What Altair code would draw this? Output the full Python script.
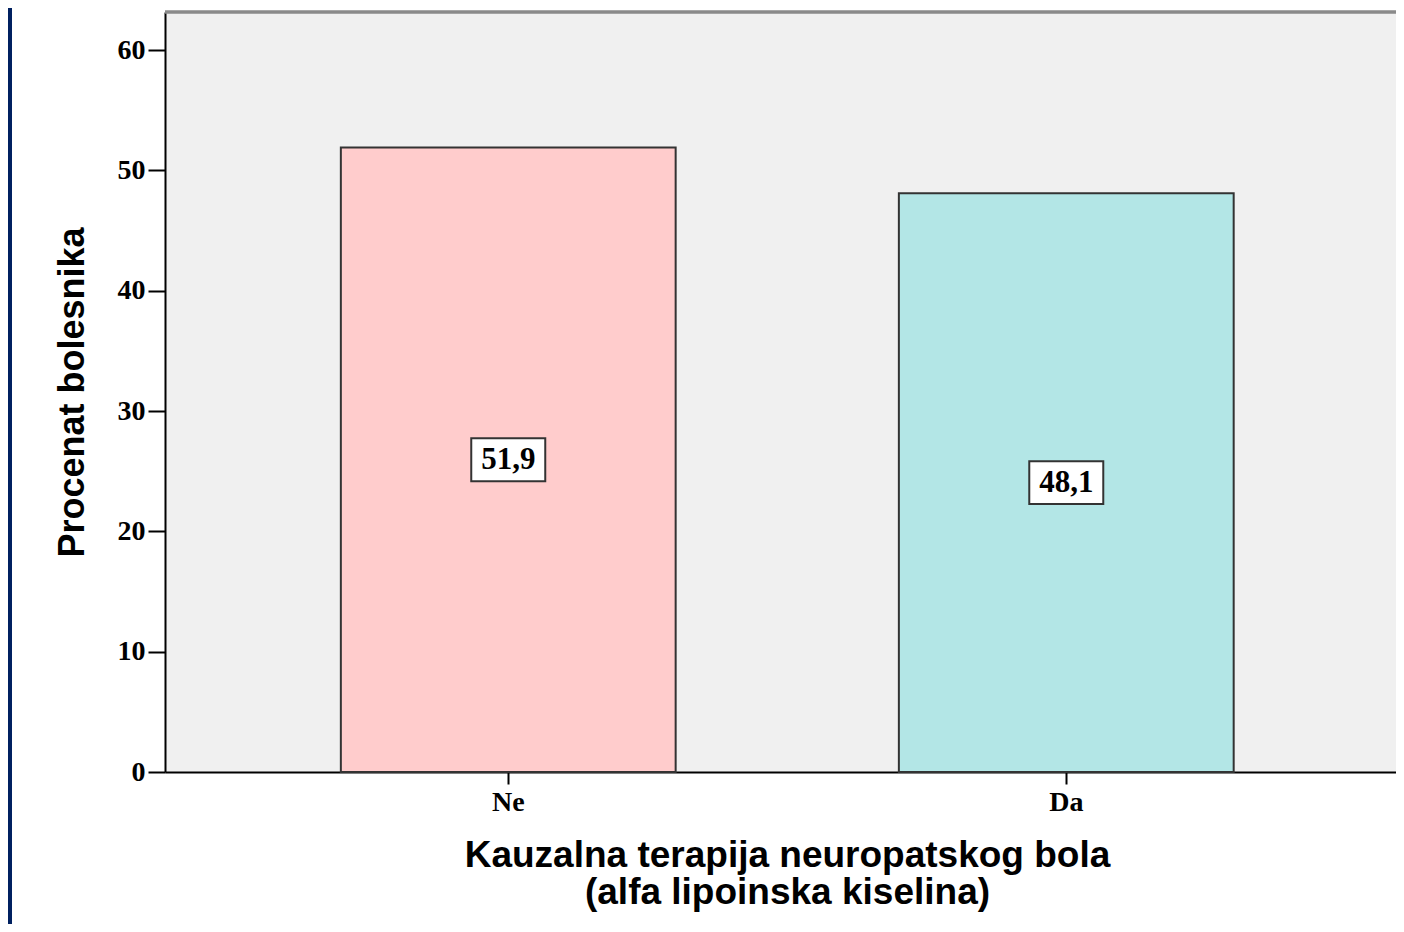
import altair as alt
import pandas as pd

categories = ["Ne", "Da"]
values = [51.9, 48.1]
value_labels = ["51,9", "48,1"]
bar_colors = ["#FFCCCC", "#B3E6E6"]
y_ticks = [0, 10, 20, 30, 40, 50, 60]

df = pd.DataFrame({
    "cat": categories,
    "val": values,
    "lab": value_labels,
})
df["half"] = df["val"] / 2

W, H = 1231, 760

x_enc = alt.X(
    "cat:N", sort=categories,
    scale=alt.Scale(paddingInner=0.4, paddingOuter=0.303, align=0.52),
    axis=alt.Axis(
        title=["Kauzalna terapija neuropatskog bola", "(alfa lipoinska kiselina)"],
        labelAngle=0, labelFont="Liberation Serif", labelFontWeight="bold",
        labelFontSize=28, labelColor="black", labelPadding=4,
        tickSize=12, tickWidth=2, tickColor="black",
        domainColor="black", domainWidth=2,
        titleFont="Liberation Sans", titleFontWeight="bold", titleFontSize=37,
        titleColor="black", titlePadding=21, titleLineHeight=37, titleX=622,
    ),
)
y_scale = alt.Scale(domain=[0, 63.16], nice=False)
y_axis = alt.Axis(
    title="Procenat bolesnika", values=y_ticks, grid=False,
    labelFont="Liberation Serif", labelFontWeight="bold", labelFontSize=28,
    labelColor="black", labelPadding=3,
    tickSize=17, tickWidth=2, tickColor="black",
    domainColor="black", domainWidth=2,
    titleFont="Liberation Sans", titleFontWeight="bold", titleFontSize=36,
    titleColor="black", titlePadding=26,
)

base = alt.Chart(df)

bars = base.mark_bar(stroke="#333333", strokeWidth=2).encode(
    x=x_enc,
    y=alt.Y("val:Q", scale=y_scale, axis=y_axis),
    color=alt.Color("cat:N", scale=alt.Scale(domain=categories, range=bar_colors), legend=None),
)

boxes = base.mark_point(
    shape="M-1,-0.58H1V0.58H-1Z", size=5476, filled=True,
    fill="white", stroke="#333333", strokeWidth=2, opacity=1,
).encode(
    x=alt.X("cat:N", sort=categories),
    y=alt.Y("half:Q", scale=y_scale),
)

texts = base.mark_text(
    font="Liberation Serif", fontWeight="bold", fontSize=31,
    baseline="middle", align="center", color="black",
).encode(
    x=alt.X("cat:N", sort=categories),
    y=alt.Y("half:Q", scale=y_scale),
    text="lab:N",
)

top_border = base.mark_rule(color="#8a8a8a", strokeWidth=3).encode(
    x=alt.value(0), x2=alt.value(W), y=alt.value(0),
)

left_strip = base.mark_rect(color="#002060").encode(
    x=alt.value(-157), x2=alt.value(-153), y=alt.value(-4), y2=alt.value(H + 160),
)

chart = alt.layer(bars, boxes, texts, top_border, left_strip).properties(
    width=W, height=H,
    autosize=alt.AutoSizeParams(type="none"),
    padding={"left": 157, "top": 4, "right": 0, "bottom": 152},
    background="white",
).configure_view(strokeWidth=0, fill="#F0F0F0")

chart.save("out.html", embed_options={"renderer": "svg", "actions": False})
